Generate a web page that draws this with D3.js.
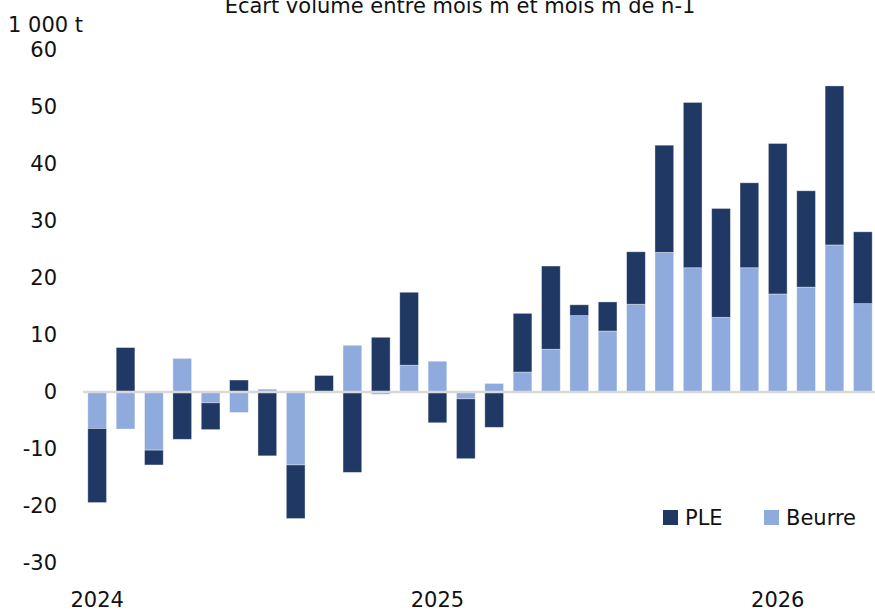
<!DOCTYPE html>
<html>
<head>
<meta charset="utf-8">
<script src="https://cdn.jsdelivr.net/npm/d3@7"></script>
<style>
  body { margin: 0; background: #fff; }
  text { font-family: "DejaVu Sans", sans-serif; fill: #111; }
</style>
</head>
<body>
<svg id="chart" width="875" height="611"></svg>
<script>
// months Jan 2024 .. Apr 2026
const months = d3.range(28).map((i) => `m${i}`);
const yearLabels = { 0: "2024", 12: "2025", 24: "2026" };
const ple = [-13.0, 7.8, -2.6, -8.3, -4.7, 2.1, -11.2, -9.4, 2.9, -14.1, 9.6, 12.8, -5.4, -10.5,
  -6.2, 10.3, 14.6, 1.9, 5.1, 9.2, 18.8, 29.0, 19.1, 14.9, 26.4, 16.9, 27.9, 12.6];
const beurre = [-6.4, -6.5, -10.2, 5.9, -1.9, -3.6, 0.5, -12.8, 0, 8.2, -0.4, 4.7, 5.4, -1.2,
  1.5, 3.5, 7.5, 13.4, 10.7, 15.4, 24.5, 21.8, 13.1, 21.8, 17.2, 18.4, 25.8, 15.5];
const yTicks = [60, 50, 40, 30, 20, 10, 0, -10, -20, -30];

const colors = { ple: "#203864", beurre: "#8faadc" };

const svg = d3.select("#chart");

// scales
const x = d3.scaleBand().domain(months).range([83, 877]).paddingInner(0.34).paddingOuter(0.17);
const y = d3.scaleLinear().domain([-30, 60]).range([563, 50]);

// stacked with diverging offset (Beurre first, PLE stacked on it)
const rows = months.map((m, i) => ({ m, beurre: beurre[i], ple: ple[i] }));
const series = d3.stack().keys(["beurre", "ple"]).offset(d3.stackOffsetDiverging)(rows);

// title (cut at top as in source)
svg.append("text")
  .attr("x", 460).attr("y", 13)
  .attr("text-anchor", "middle")
  .style("font-size", "21px")
  .text("Ecart volume entre mois m et mois m de n-1");

svg.append("text")
  .attr("x", 8).attr("y", 32)
  .style("font-size", "21px")
  .text("1 000 t");

// y axis labels
const yAxis = d3.axisLeft(y).tickValues(yTicks).tickSize(0).tickPadding(0)
  .tickFormat((d) => String(d));
svg.append("g")
  .attr("transform", "translate(57,0)")
  .call(yAxis)
  .call((g) => g.select(".domain").remove())
  .selectAll("text")
  .style("font-size", "21px")
  .attr("fill", "#111")
  .style("font-family", "\"DejaVu Sans\", sans-serif");

// bars
svg.append("g")
  .selectAll("g")
  .data(series)
  .join("g")
  .attr("fill", (s) => colors[s.key])
  .selectAll("rect")
  .data((s) => s)
  .join("rect")
  .attr("x", (d) => x(d.data.m))
  .attr("width", x.bandwidth())
  .attr("y", (d) => y(Math.max(d[0], d[1])))
  .attr("height", (d) => Math.abs(y(d[0]) - y(d[1])))
  .attr("stroke", "rgba(255,255,255,0.45)")
  .attr("stroke-width", 0.8);

// zero line
svg.append("line")
  .attr("x1", 83).attr("x2", 875)
  .attr("y1", y(0)).attr("y2", y(0))
  .attr("stroke", "#d9d9d9")
  .attr("stroke-width", 2.5);

// year labels
svg.append("g")
  .selectAll("text")
  .data(Object.keys(yearLabels))
  .join("text")
  .attr("x", (i) => x(months[i]) + x.bandwidth() / 2)
  .attr("y", 607)
  .attr("text-anchor", "middle")
  .style("font-size", "21px")
  .text((i) => yearLabels[i]);

// legend
const legend = svg.append("g");
const items = [
  { label: "PLE", color: colors.ple, x: 663 },
  { label: "Beurre", color: colors.beurre, x: 764 },
];
items.forEach((it) => {
  legend.append("rect")
    .attr("x", it.x).attr("y", 510)
    .attr("width", 15).attr("height", 15)
    .attr("fill", it.color);
  legend.append("text")
    .attr("x", it.x + 22).attr("y", 525)
    .style("font-size", "21px")
    .text(it.label);
});
</script>
</body>
</html>
